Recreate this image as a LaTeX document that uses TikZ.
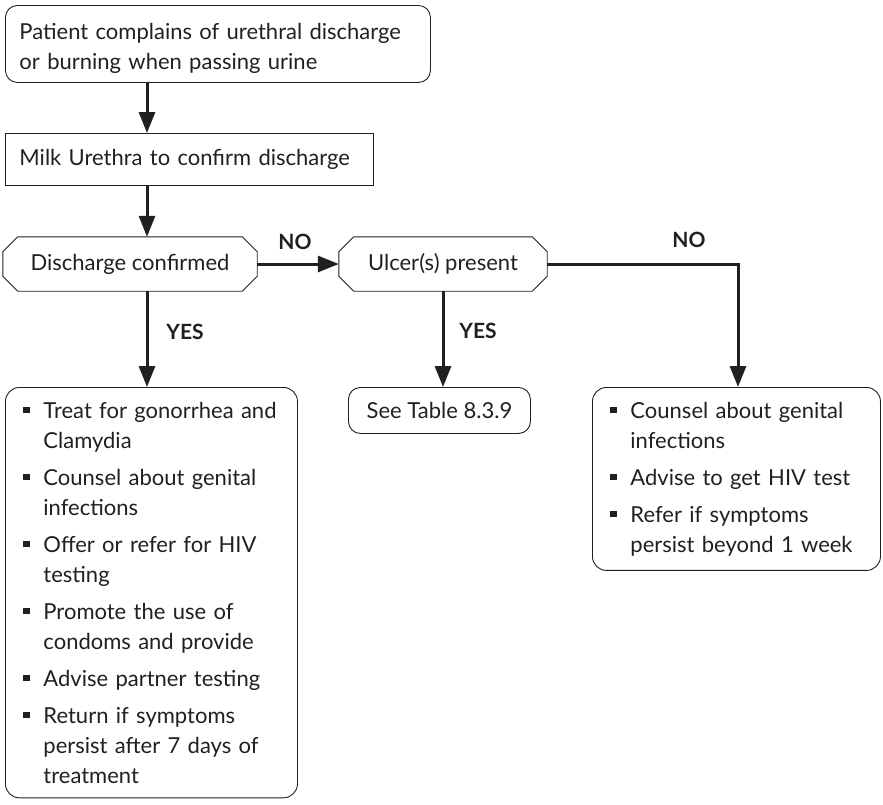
\documentclass[tikz,border=0pt]{standalone}
\usepackage{fontspec}
\setmainfont{Lato}
\usetikzlibrary{arrows.meta,calc}
\definecolor{ink}{HTML}{231F20}
% square bullet; each item is a paragraph with a hanging indent
\newcommand\sqb{\rule[5pt]{6.5pt}{6.5pt}}
\newcommand\bitem[1]{\hangindent=20pt\hangafter=1\noindent\makebox[20pt][l]{\sqb}#1}
\newcommand\itemgap{\par\vskip7pt}
% octagonal outline around a named node
\newcommand\octo[1]{%
  \draw[oct] ($(#1.north west)+(15,0)$) -- ($(#1.north east)+(-15,0)$)
    -- ($(#1.north east)+(0,15)$) -- ($(#1.south east)+(0,-15)$)
    -- ($(#1.south east)+(-15,0)$) -- ($(#1.south west)+(15,0)$)
    -- ($(#1.south west)+(0,-15)$) -- ($(#1.north west)+(0,15)$) -- cycle;}
\begin{document}
\begin{tikzpicture}[x=1pt,y=-1pt,
  every node/.style={text=ink, font=\fontsize{22}{30}\selectfont},
  box/.style={draw=ink, line width=0.9pt, align=left, inner xsep=14pt, anchor=north west},
  rbox/.style={box, rounded corners=12pt},
  listbox/.style={rbox, rounded corners=14pt, inner xsep=18pt, inner ysep=14.5pt},
  dec/.style={inner sep=0pt},
  oct/.style={draw=ink, line width=0.9pt},
  arr/.style={draw=ink, line width=3pt, -{Triangle[length=21pt,width=16pt]}},
  lab/.style={font=\fontsize{21}{24}\selectfont\bfseries}
]
\useasboundingbox (0,0) rectangle (883,804);

% columns of the vertical connectors
\coordinate (c1) at (147,0);
\coordinate (c2) at (443,0);
\coordinate (c3) at (738,0);

% boxes
\node[rbox, text width=397pt, minimum height=77pt] (p) at (5,5)
  {\rule{0pt}{25pt}Patient complains of urethral discharge\\or burning when passing urine};
\node[box, text width=340pt, minimum height=52pt] (m) at (5,133)
  {Milk Urethra to confirm discharge};

\node[dec, minimum width=254pt, minimum height=54pt] (o1) at (130,264) {Discharge confirmed};
\octo{o1}
\node[dec, minimum width=208pt, minimum height=54pt] (o2) at (443,264) {Ulcer(s) present};
\octo{o2}

\node[rbox, minimum width=182pt, minimum height=46pt, inner xsep=6pt] (t) at (348,387)
  {See Table 8.3.9};

\node[listbox, text width=256pt] (l) at (5,387) {%
  \bitem{Treat for gonorrhea and\newline Clamydia}\itemgap
  \bitem{Counsel about genital\newline infections}\itemgap
  \bitem{Offer or refer for HIV\newline testing}\itemgap
  \bitem{Promote the use of\newline condoms and provide}\itemgap
  \bitem{Advise partner testing}\itemgap
  \bitem{Return if symptoms\newline persist after 7 days of\newline treatment}\par};

\node[listbox, text width=252pt] (r) at (592,387) {%
  \bitem{Counsel about genital\newline infections}\itemgap
  \bitem{Advise to get HIV test}\itemgap
  \bitem{Refer if symptoms\newline persist beyond 1 week}\par};

% connectors
\draw[arr] (p.south -| c1) -- (m.north -| c1);
\draw[arr] (m.south -| c1) -- (o1.north -| c1);
\draw[arr] (o1.east) -- (o2.west);
\draw[arr] (o1.south -| c1) -- (l.north -| c1);
\draw[arr] (o2.south -| c2) -- (t.north -| c2);
\draw[arr] (o2.east) -| (r.north -| c3);

% branch labels
\node[lab] (n1) at (295,242) {NO};
\node[lab] (n2) at (689,240) {NO};
\node[lab] (y1) at (185,332) {YES};
\node[lab] (y2) at (478,331) {YES};
\end{tikzpicture}
\end{document}
